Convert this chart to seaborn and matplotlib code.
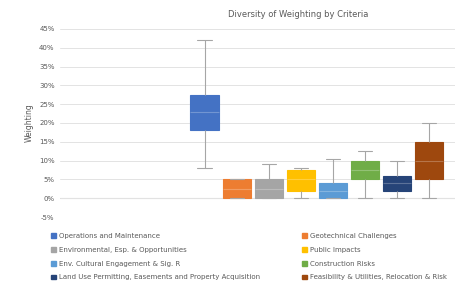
import pandas as pd
import numpy as np
import matplotlib.pyplot as plt
import seaborn as sns
from matplotlib.patches import Patch

sns.set_theme(style="white")
plt.rcParams["font.family"] = ["DejaVu Sans"]

# criteria (legend order follows the series order in the chart)
criteria = [
    "Operations and Maintenance",
    "Geotechnical Challenges",
    "Environmental, Esp. & Opportunities",
    "Public Impacts",
    "Env. Cultural Engagement & Sig. R",
    "Construction Risks",
    "Land Use Permitting, Easements and Property Acquisition",
    "Feasibility & Utilities, Relocation & Risk",
]
colors = ["#4472C4", "#ED7D31", "#A5A5A5", "#FFC000",
          "#5B9BD5", "#70AD47", "#264478", "#9E480E"]

# five-number summaries: min, q1, median, q3, max
ops_maint = [0.08, 0.18, 0.23, 0.275, 0.42]
geotech = [0.0, 0.0, 0.025, 0.05, 0.05]
environmental = [0.0, 0.0, 0.025, 0.05, 0.09]
public_impacts = [0.0, 0.02, 0.05, 0.075, 0.08]
cultural = [0.0, 0.0, 0.02, 0.04, 0.105]
construction = [0.0, 0.05, 0.075, 0.10, 0.125]
land_use = [0.0, 0.02, 0.04, 0.06, 0.10]
feasibility = [0.0, 0.05, 0.10, 0.15, 0.20]

series = [ops_maint, geotech, environmental, public_impacts,
          cultural, construction, land_use, feasibility]

rows = []
for name, vals in zip(criteria, series):
    for v in vals:
        rows.append({"Criteria": name, "Weighting": v})
df = pd.DataFrame(rows)

fig = plt.figure(figsize=(4.59, 2.89), dpi=100)
ax = fig.add_axes([0.131, 0.249, 0.86, 0.651])

sns.boxplot(data=df, x="Criteria", y="Weighting", hue="Criteria",
            order=criteria, hue_order=criteria, palette=colors,
            whis=(0, 100), width=0.88, dodge=False, legend=False,
            linecolor="#a6a6a6", linewidth=0.8, saturation=1,
            medianprops={"color": "#ffffff", "alpha": 0.25}, ax=ax)

for patch in ax.patches:
    patch.set_edgecolor(patch.get_facecolor())

ax.set_xlim(-4.5, 7.8)
ax.set_ylim(-0.05, 0.45)
yt = np.arange(-0.05, 0.451, 0.05)
ax.set_yticks(yt)
ax.set_yticklabels([f"{round(t * 100)}%" for t in yt], fontsize=5, color="#595959")
ax.set_xticks([])
ax.set_xlabel("")
ax.set_ylabel("Weighting", fontsize=5.5, color="#595959")
ax.grid(axis="y", color="#e3e3e3", linewidth=0.7)
ax.set_axisbelow(True)
ax.axhline(0, color="#d0d0d0", linewidth=0.8, zorder=0)
for s in ax.spines.values():
    s.set_visible(False)
ax.tick_params(axis="y", length=0, pad=4)

fig.text(0.65, 0.95, "Diversity of Weighting by Criteria",
         ha="center", va="center", fontsize=6, color="#595959")

# legend in two columns, Excel-style order
handles = [Patch(facecolor=c, edgecolor=c) for c in colors]
col1 = [0, 2, 4, 6]
col2 = [1, 3, 5, 7]
for idx, x0 in [(col1, 0.105), (col2, 0.652)]:
    fig.legend([handles[i] for i in idx], [criteria[i] for i in idx],
               loc="upper left", bbox_to_anchor=(x0, 0.205),
               frameon=False, fontsize=5, labelcolor="#595959",
               handlelength=0.7, handleheight=0.7, handletextpad=0.5,
               labelspacing=1.15, borderaxespad=0)

fig.savefig("out.png", dpi=100)
